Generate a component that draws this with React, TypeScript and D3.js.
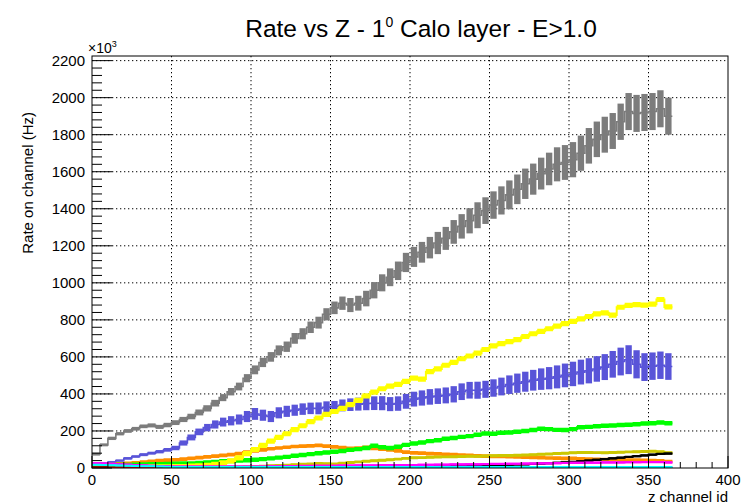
import React from "react";
import * as d3 from "d3";

// Rate per calorimeter z-channel, one histogram per source.
// Each value is the mean rate over 5 consecutive channels (kHz), starting at channel 0.
const BIN_WIDTH = 5;
const LAST_CHANNEL = 365;

const xTickValues = [0, 50, 100, 150, 200, 250, 300, 350, 400];
const yTickValues = [0, 200, 400, 600, 800, 1000, 1200, 1400, 1600, 1800, 2000, 2200];

const grayRate = [
  75, 125, 160, 185, 200, 212, 225, 230, 222, 232,
  245, 262, 278, 300, 322, 350, 380, 412, 440, 485,
  530, 570, 600, 635, 655, 700, 725, 760, 785, 830,
  865, 890, 880, 890, 915, 960, 1000, 1030, 1065, 1110,
  1140, 1165, 1190, 1215, 1240, 1275, 1305, 1335, 1365, 1390,
  1420, 1445, 1475, 1505, 1535, 1560, 1590, 1615, 1640, 1650,
  1665, 1700, 1740, 1775, 1800, 1820, 1870, 1925, 1915, 1920,
  1925, 1940, 1900,
];
const grayErr = [
  8, 8, 9, 9, 10, 10, 10, 11, 11, 12,
  13, 14, 15, 16, 17, 18, 19, 20, 21, 22,
  24, 25, 26, 27, 28, 29, 30, 31, 32, 33,
  34, 36, 38, 40, 42, 44, 46, 48, 50, 52,
  54, 56, 58, 60, 62, 64, 66, 68, 70, 72,
  74, 76, 78, 80, 82, 84, 86, 88, 92, 94,
  95, 95, 96, 96, 97, 97, 98, 100, 100, 100,
  100, 100, 100,
];

const blueRate = [
  18, 25, 32, 40, 52, 62, 72, 80, 88, 98,
  108, 135, 165, 195, 218, 235, 248, 255, 262, 278,
  292, 285, 278, 298, 306, 312, 318, 322, 322, 328,
  332, 338, 342, 345, 348, 350, 350, 345, 348, 360,
  372, 378, 384, 388, 392, 398, 412, 420, 420, 425,
  432, 440, 450, 458, 466, 474, 480, 485, 492, 500,
  508, 518, 525, 535, 545, 560, 575, 585, 560, 545,
  550, 555, 548,
];
const blueErr = [
  5, 5, 6, 6, 7, 7, 8, 8, 9, 10,
  12, 14, 16, 18, 20, 22, 24, 25, 27, 30,
  32, 30, 30, 30, 30, 30, 31, 31, 32, 32,
  30, 32, 34, 35, 36, 37, 38, 38, 39, 40,
  40, 41, 42, 42, 43, 44, 45, 45, 46, 46,
  47, 48, 50, 52, 54, 56, 58, 60, 62, 64,
  66, 67, 68, 69, 70, 72, 75, 78, 76, 75,
  74, 74, 72,
];

const yellowRate = [
  5, 5, 5, 5, 5, 5, 5, 6, 6, 6,
  7, 8, 10, 12, 15, 20, 28, 38, 55, 78,
  100, 122, 145, 165, 185, 207, 228, 250, 270, 290,
  305, 322, 342, 365, 390, 410, 428, 442, 452, 468,
  485, 480, 520, 535, 555, 570, 590, 605, 620, 640,
  660, 672, 682, 693, 710, 725, 738, 752, 766, 780,
  792, 805, 818, 832, 838, 826, 868, 878, 882, 880,
  885, 910, 870,
];

const greenRate = [
  12, 14, 15, 16, 17, 18, 19, 20, 21, 22,
  23, 24, 25, 27, 30, 33, 36, 38, 40, 42,
  45, 48, 52, 56, 60, 66, 70, 75, 80, 84,
  88, 92, 98, 102, 108, 120, 112, 108, 115, 125,
  132, 138, 145, 150, 158, 162, 168, 172, 180, 186,
  185, 190, 192, 196, 200, 205, 212, 210, 206, 205,
  210, 220, 222, 225, 228, 230, 232, 234, 236, 240,
  242, 246, 242,
];

const orangeRate = [
  10, 14, 18, 22, 25, 28, 32, 36, 40, 42,
  44, 48, 52, 56, 60, 64, 68, 72, 78, 86,
  92, 98, 104, 108, 112, 116, 118, 120, 122, 118,
  114, 110, 106, 108, 112, 106, 102, 98, 92, 86,
  82, 80, 78, 76, 74, 72, 70, 68, 66, 64,
  63, 62, 61, 60, 58, 57, 56, 54, 53, 52,
  52, 50, 48, 47, 46, 45, 44, 43, 42, 41,
  40, 38, 35,
];

const oliveRate = [
  2, 2, 2, 2, 2, 2, 2, 3, 3, 3,
  3, 3, 3, 4, 4, 4, 5, 5, 6, 7,
  8, 10, 12, 14, 15, 17, 20, 22, 24, 23,
  22, 26, 30, 33, 36, 39, 42, 45, 48, 52,
  55, 56, 58, 59, 60, 61, 62, 63, 64, 65,
  66, 67, 68, 69, 70, 72, 74, 76, 78, 80,
  82, 84, 84, 83, 82, 84, 85, 87, 88, 89,
  90, 88, 82,
];

const blackRate = [
  3, 3, 2, 3, 3, 2, 3, 3, 3, 2,
  3, 3, 3, 2, 3, 3, 3, 3, 2, 3,
  3, 3, 3, 3, 3, 4, 4, 4, 4, 4,
  4, 5, 5, 5, 5, 5, 6, 6, 6, 7,
  7, 8, 9, 10, 11, 12, 12, 13, 14, 15,
  16, 17, 18, 19, 20, 22, 24, 26, 28, 30,
  33, 36, 40, 44, 48, 52, 56, 60, 64, 68,
  72, 76, 78,
];

const magentaRate = [
  25, 24, 22, 20, 18, 16, 14, 12, 10, 9,
  8, 8, 8, 8, 8, 8, 8, 8, 8, 8,
  8, 8, 9, 9, 10, 10, 11, 11, 12, 12,
  12, 13, 13, 14, 14, 14, 15, 15, 15, 16,
  16, 17, 17, 18, 18, 19, 19, 20, 20, 21,
  22, 22, 23, 23, 24, 24, 25, 25, 26, 27,
  28, 28, 29, 29, 30, 30, 30, 31, 31, 32,
  32, 32, 30,
];

const cyanRate = [
  18, 16, 15, 14, 12, 11, 10, 9, 8, 7,
  6, 6, 6, 6, 6, 6, 6, 6, 6, 6,
  5, 5, 5, 5, 5, 5, 5, 5, 5, 5,
  5, 5, 5, 5, 5, 5, 5, 5, 5, 5,
  5, 5, 5, 5, 5, 5, 5, 5, 5, 5,
  5, 5, 5, 5, 5, 5, 5, 5, 5, 5,
  5, 5, 5, 5, 5, 5, 5, 5, 5, 5,
  5, 5, 5,
];

const redRate = [
  3, 3, 2, 3, 3, 3, 2, 3, 3, 3,
  2, 3, 3, 3, 3, 2, 3, 3, 3, 3,
  3, 2, 3, 3, 3, 3, 3, 2, 3, 3,
  3, 3, 2, 3, 3, 3, 3, 3, 2, 3,
  3, 3, 3, 2, 3, 3, 3, 3, 3, 2,
  3, 3, 3, 3, 2, 3, 3, 3, 3, 3,
  2, 3, 3, 3, 3, 3, 2, 3, 3, 3,
  3, 3, 2,
];

type Series = {
  name: string;
  color: string;
  rate: number[];
  err: number[] | number;
  blocks: boolean;
};

// Draw order: later entries sit on top.
const series: Series[] = [
  { name: "gray", color: "#7c7c7c", rate: grayRate, err: grayErr, blocks: true },
  { name: "blue", color: "#5954d8", rate: blueRate, err: blueErr, blocks: true },
  { name: "orange", color: "#ff8e00", rate: orangeRate, err: 10, blocks: false },
  { name: "olive", color: "#cbc800", rate: oliveRate, err: 8, blocks: false },
  { name: "green", color: "#00ff00", rate: greenRate, err: 12, blocks: false },
  { name: "yellow", color: "#ffff00", rate: yellowRate, err: 14, blocks: false },
  { name: "black", color: "#000000", rate: blackRate, err: 6, blocks: false },
  { name: "magenta", color: "#ff00ff", rate: magentaRate, err: 6, blocks: false },
  { name: "red", color: "#ff0000", rate: redRate, err: 3, blocks: false },
  { name: "cyan", color: "#00ffff", rate: cyanRate, err: 4, blocks: false },
];

const WIDTH = 744;
const HEIGHT = 504;
const frame = { left: 92, right: 728, top: 56, bottom: 468 };
const FONT = "'Liberation Sans', Arial, Helvetica, sans-serif";

export default function App() {
  const x = d3.scaleLinear().domain([0, 400]).range([frame.left, frame.right]);
  const y = d3.scaleLinear().domain([0, 2225]).range([frame.bottom, frame.top]);

  const yMinor = d3.range(0, 2201, 40).filter((v) => v % 200 !== 0);
  const xMinor = d3.range(0, 401, 10).filter((v) => v % 50 !== 0);

  const binLo = (i: number) => i * BIN_WIDTH;
  const binHi = (i: number) => Math.min((i + 1) * BIN_WIDTH, LAST_CHANNEL);

  const renderSeries = (s: Series) => {
    const errAt = (i: number) => (typeof s.err === "number" ? s.err : s.err[i]);
    const pts = s.rate.map((v, i) => ({ i, v, e: errAt(i) }));
    // Extend the last bin to the final channel edge for step curves.
    const stepPts = [...pts, { i: pts.length, v: pts[pts.length - 1].v, e: pts[pts.length - 1].e }];
    const stepX = (d: { i: number }) => x(Math.min(d.i * BIN_WIDTH, LAST_CHANNEL));

    const centre = d3
      .line<{ i: number; v: number }>()
      .x(stepX)
      .y((d) => y(d.v))
      .curve(d3.curveStepAfter);

    if (!s.blocks) {
      const band = d3
        .area<{ i: number; v: number; e: number }>()
        .x(stepX)
        .y0((d) => y(d.v - d.e))
        .y1((d) => y(d.v + d.e))
        .curve(d3.curveStepAfter);
      return (
        <g key={s.name}>
          <path d={band(stepPts) ?? ""} fill={s.color} />
          <path d={centre(stepPts) ?? ""} fill="none" stroke={s.color} strokeWidth={2} />
        </g>
      );
    }

    return (
      <g key={s.name}>
        <path d={centre(stepPts) ?? ""} fill="none" stroke={s.color} strokeWidth={1.6} />
        {pts.map((d) => {
          const x0 = x(binLo(d.i));
          const x1 = x(binHi(d.i));
          const inset = d.e > 18 ? 0.8 : 0;
          const top = y(d.v + d.e);
          const bot = y(d.v - d.e);
          return (
            <rect
              key={d.i}
              x={x0 + inset}
              width={Math.max(1, x1 - x0 - 2 * inset)}
              y={top}
              height={Math.max(2, bot - top)}
              fill={s.color}
            />
          );
        })}
      </g>
    );
  };

  return (
    <svg width={WIDTH} height={HEIGHT} style={{ display: "block", position: "absolute", left: 0, top: 0 }} fontFamily={FONT}>
      <rect x={0} y={0} width={WIDTH} height={HEIGHT} fill="#ffffff" />
      <defs>
        <clipPath id="plot-area">
          <rect x={frame.left} y={frame.top} width={frame.right - frame.left} height={frame.bottom - frame.top} />
        </clipPath>
      </defs>

      {/* dotted grid at major ticks */}
      <g stroke="#000" strokeWidth={1} strokeDasharray="1.3 2.7">
        {xTickValues
          .filter((v) => v > 0 && v < 400)
          .map((v) => (
            <line key={`gx${v}`} x1={x(v)} x2={x(v)} y1={frame.top} y2={frame.bottom} />
          ))}
        {yTickValues
          .filter((v) => v > 0)
          .map((v) => (
            <line key={`gy${v}`} x1={frame.left} x2={frame.right} y1={y(v)} y2={y(v)} />
          ))}
      </g>

      <g clipPath="url(#plot-area)">{series.map(renderSeries)}</g>

      {/* frame */}
      <rect
        x={frame.left}
        y={frame.top}
        width={frame.right - frame.left}
        height={frame.bottom - frame.top}
        fill="none"
        stroke="#000"
        strokeWidth={1}
      />

      {/* axis ticks */}
      <g stroke="#000" strokeWidth={1}>
        {yTickValues.map((v) => (
          <line key={`ty${v}`} x1={frame.left} x2={frame.left + 20} y1={y(v)} y2={y(v)} />
        ))}
        {yMinor.map((v) => (
          <line key={`tym${v}`} x1={frame.left} x2={frame.left + 10} y1={y(v)} y2={y(v)} />
        ))}
        {xTickValues.map((v) => (
          <line key={`tx${v}`} x1={x(v)} x2={x(v)} y1={frame.bottom} y2={frame.bottom - 12} />
        ))}
        {xMinor.map((v) => (
          <line key={`txm${v}`} x1={x(v)} x2={x(v)} y1={frame.bottom} y2={frame.bottom - 6} />
        ))}
      </g>

      {/* tick labels */}
      <g fontSize={15} fill="#000">
        {yTickValues.map((v) => (
          <text key={`ly${v}`} x={frame.left - 7} y={y(v)} dy="0.36em" textAnchor="end">
            {v}
          </text>
        ))}
        {xTickValues.map((v) => (
          <text key={`lx${v}`} x={x(v)} y={485} textAnchor="middle">
            {v}
          </text>
        ))}
      </g>

      {/* exponent marker */}
      <text x={88} y={53} fontSize={14}>
        ×10
        <tspan fontSize={9} dy={-6}>
          3
        </tspan>
      </text>

      {/* axis titles */}
      <text x={frame.right} y={502} fontSize={15} textAnchor="end">
        z channel id
      </text>
      <text transform="translate(33,112) rotate(-90)" fontSize={15} textAnchor="end">
        Rate on channel (Hz)
      </text>

      {/* title */}
      <text x={421} y={37} fontSize={24.5} textAnchor="middle">
        Rate vs Z - 1
        <tspan fontSize={14} dy={-10}>
          0
        </tspan>
        <tspan dy={10}> Calo layer - E&gt;1.0</tspan>
      </text>
    </svg>
  );
}
